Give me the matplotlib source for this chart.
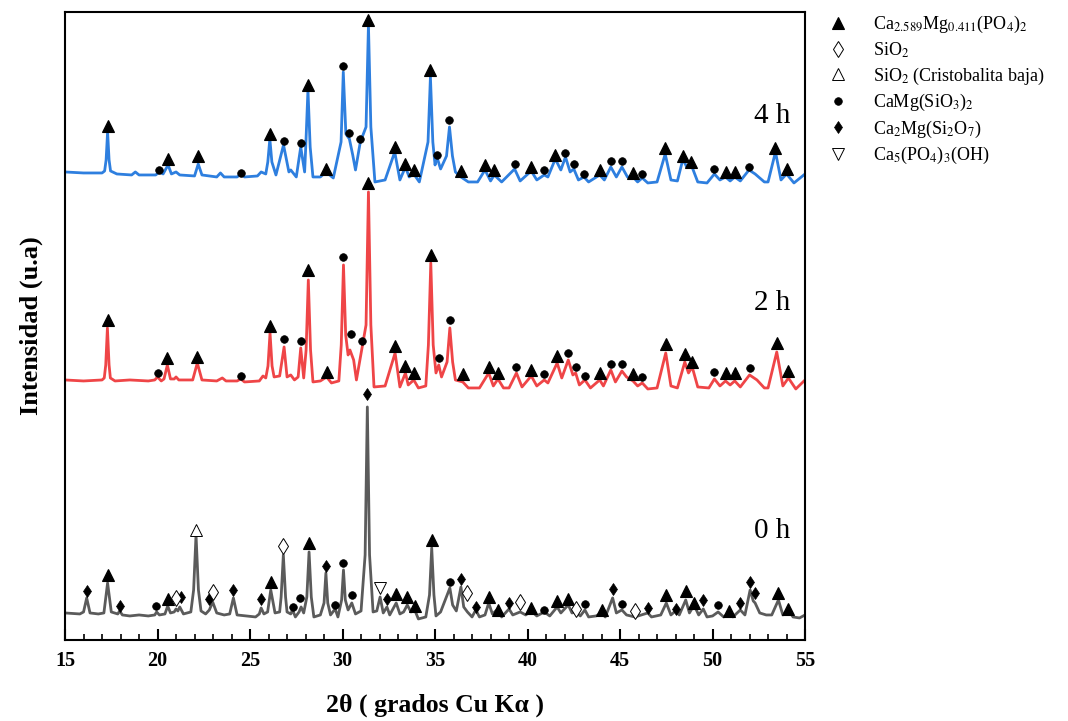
import matplotlib
matplotlib.use("Agg")
import matplotlib.pyplot as plt
from matplotlib.lines import Line2D
from matplotlib.ticker import MultipleLocator

plt.rcParams['font.family'] = ['Liberation Serif', 'DejaVu Serif']
plt.rcParams['mathtext.fontset'] = 'stix'

# XRD patterns as (2theta, intensity a.u.) points
pattern_0h = [
    (15.0, 2), (15.8, 1), (16.0, 3), (16.17, 17), (16.35, 2), (16.8, 1), (17.1, 2), (17.3, 32),
    (17.5, 3), (17.85, 1), (17.95, 4), (18.1, 0), (18.5, -1), (19.0, 0), (19.5, -1), (19.85, 0),
    (19.95, 3), (20.1, 0), (20.4, 1), (20.55, 9), (20.7, 2), (20.9, 3), (21.0, 6), (21.1, 4),
    (21.2, 8), (21.4, 1), (21.8, 3), (21.95, 25), (22.08, 80), (22.21, 25), (22.35, 4), (22.6, 1),
    (22.8, 5), (22.98, 13), (23.2, 2), (23.6, 0), (23.9, 1), (24.1, 17), (24.3, 0), (24.8, -1),
    (25.3, -2), (25.5, 1), (25.6, 7), (25.75, 1), (25.95, 3), (26.12, 25), (26.35, 2), (26.6, 3),
    (26.68, 18), (26.8, 60), (26.92, 18), (27.0, 3), (27.2, 1), (27.3, 5), (27.45, -2), (27.65, 3),
    (27.76, 8), (27.9, 2), (28.07, 18), (28.19, 63), (28.31, 18), (28.45, -2), (28.8, 0),
    (29.0, 12), (29.1, 42), (29.2, 12), (29.35, 0), (29.6, 6), (29.75, -2), (29.95, 15),
    (30.05, 45), (30.15, 15), (30.3, 5), (30.5, 12), (30.7, 1), (31.0, 4), (31.22, 60),
    (31.34, 208), (31.46, 60), (31.65, 3), (31.85, 4), (32.03, 18), (32.2, 2), (32.4, 8),
    (32.55, 0), (32.9, 12), (33.1, 1), (33.3, 3), (33.5, 10), (33.7, 3), (33.9, 5), (34.1, -4),
    (34.5, -2), (34.7, 20), (34.82, 67), (34.94, 20), (35.05, -1), (35.3, 3), (35.8, 27),
    (35.95, 10), (36.15, 4), (36.4, 28), (36.55, 8), (36.75, 3), (37.0, -2), (37.2, 5),
    (37.4, -2), (37.7, 0), (37.9, 12), (38.1, 1), (38.4, 6), (38.6, -2), (39.0, 6), (39.2, 0),
    (39.6, 3), (39.9, 0), (40.2, 4), (40.5, -1), (40.9, 3), (41.2, -1), (41.6, 8), (41.8, 2),
    (42.2, 10), (42.4, 2), (42.6, 3), (42.85, -1), (43.1, 5), (43.3, -2), (43.7, -1), (44.0, 2),
    (44.2, -2), (44.6, 17), (44.8, 2), (45.1, 5), (45.35, 0), (45.8, -2), (46.5, 2), (46.7, -2),
    (47.2, 0), (47.5, 12), (47.75, 0), (48.0, 4), (48.2, 0), (48.55, 15), (48.75, 2), (49.0, 10),
    (49.25, 0), (49.5, 6), (49.7, -2), (50.0, -1), (50.3, 3), (50.6, -2), (50.9, 2), (51.1, -2),
    (51.5, 5), (51.75, 0), (52.03, 25), (52.2, 14), (52.3, 12), (52.55, 2), (52.9, 0), (53.2, 0),
    (53.56, 15), (53.8, 0), (54.1, 5), (54.35, -2), (54.7, -3), (55.0, 0),
]

pattern_2h = [
    (15.0, 0), (16.0, -1), (17.0, 0), (17.12, 2), (17.2, 15), (17.29, 52), (17.38, 15), (17.45, 2),
    (17.7, -1), (18.5, 0), (19.5, -1), (19.85, 0), (20.0, 3), (20.2, -1), (20.35, 1), (20.53, 15),
    (20.7, 1), (20.9, 1), (21.0, 3), (21.15, 0), (21.9, 0), (22.15, 17), (22.4, 0), (23.2, -1),
    (23.5, 2), (23.7, -1), (24.3, -1), (24.5, 1), (24.7, -2), (25.5, -1), (25.7, 4), (25.85, 2),
    (25.97, 14), (26.08, 47), (26.19, 14), (26.3, 3), (26.6, 4), (26.84, 33), (27.0, 3), (27.2, 5),
    (27.4, 0), (27.6, 3), (27.74, 32), (27.9, 2), (28.03, 30), (28.15, 100), (28.27, 30),
    (28.4, -2), (28.8, -1), (29.14, 3), (29.4, -3), (29.8, -1), (29.93, 35), (30.05, 115),
    (30.17, 45), (30.3, 25), (30.4, 30), (30.6, 20), (30.75, 0), (31.05, 32), (31.27, 55),
    (31.4, 188), (31.53, 55), (31.7, -7), (32.3, -6), (32.84, 27), (33.1, -7), (33.4, 7),
    (33.55, -5), (33.85, 0), (34.1, -8), (34.5, -6), (34.64, 35), (34.77, 117), (34.9, 35),
    (35.05, 7), (35.2, 15), (35.35, 3), (35.65, 18), (35.8, 52), (35.95, 18), (36.1, 0),
    (36.5, -2), (36.8, -8), (37.4, -8), (37.9, 7), (38.15, -6), (38.4, 1), (38.7, -8), (39.0, -8),
    (39.4, 7), (39.7, -7), (40.2, 4), (40.5, -6), (40.9, 0), (41.1, -3), (41.6, 17), (41.85, 2),
    (42.2, 20), (42.45, 5), (42.6, 7), (42.8, -5), (43.1, 0), (43.4, -8), (43.9, 0), (44.1, -6),
    (44.5, 10), (44.75, -2), (45.1, 9), (45.35, 3), (45.7, -1), (45.95, -6), (46.2, -3),
    (46.5, -9), (47.0, -8), (47.47, 27), (47.75, -6), (48.1, -8), (48.5, 18), (48.7, 7),
    (48.9, 13), (49.2, -7), (49.8, -8), (50.1, 1), (50.4, -6), (50.7, -1), (50.95, -5),
    (51.2, -1), (51.5, -7), (52.0, 5), (52.4, 0), (52.8, -8), (53.0, -8), (53.47, 28),
    (53.8, -6), (54.1, 2), (54.5, -9), (55.0, 0),
]

pattern_4h = [
    (15.0, 0), (16.0, -1), (17.0, -1), (17.14, 1), (17.22, 12), (17.3, 40), (17.38, 12),
    (17.46, 1), (17.8, -2), (18.6, -3), (18.8, 0), (19.0, -3), (19.9, -3), (20.1, 0), (20.3, -2),
    (20.57, 7), (20.75, -2), (21.0, 0), (21.2, -3), (22.0, -4), (22.2, 8), (22.4, -3), (23.2, -5),
    (23.4, -1), (23.6, -5), (24.3, -5), (24.5, -2), (24.7, -5), (25.4, -4), (25.6, 0), (25.85, -2),
    (25.96, 10), (26.07, 33), (26.18, 10), (26.4, -3), (26.81, 27), (27.1, 0), (27.2, 2),
    (27.5, -5), (27.74, 25), (27.95, 0), (28.01, 25), (28.13, 82), (28.25, 25), (28.4, -5),
    (28.8, -5), (29.1, 0), (29.5, -6), (29.92, 30), (30.04, 100), (30.18, 38), (30.37, 33),
    (30.55, 17), (30.7, 2), (30.96, 30), (31.27, 45), (31.4, 147), (31.53, 45), (31.75, -10),
    (32.3, -8), (32.82, 20), (33.1, -8), (33.4, 5), (33.6, -5), (33.85, -2), (34.15, -10),
    (34.62, 30), (34.75, 95), (34.88, 30), (35.0, 7), (35.1, 15), (35.3, 3), (35.62, 16),
    (35.78, 45), (35.94, 16), (36.1, 0), (36.4, -5), (36.8, -10), (37.3, -10), (37.7, 2),
    (38.0, -9), (38.2, -3), (38.6, -10), (39.3, 3), (39.6, -9), (40.2, 1), (40.5, -8), (40.9, -3),
    (41.1, -5), (41.5, 13), (41.8, 2), (42.05, 15), (42.3, 0), (42.5, 3), (42.75, -8),
    (43.05, -5), (43.3, -10), (43.9, -3), (44.15, -8), (44.5, 5), (44.8, -5), (45.1, 5),
    (45.4, -5), (45.7, -5), (45.95, -10), (46.2, -6), (46.5, -11), (47.0, -10), (47.44, 18),
    (47.75, -8), (48.1, -9), (48.4, 13), (48.6, 5), (48.85, 7), (49.2, -10), (49.7, -11),
    (50.1, -2), (50.4, -8), (50.7, -5), (50.95, -9), (51.2, -5), (51.5, -9), (51.97, 2),
    (52.3, -2), (52.8, -10), (53.0, -10), (53.4, 20), (53.7, -8), (54.0, -2), (54.4, -11),
    (55.0, -2),
]

# phase marks above peaks: (phase, 2theta, level)
marks_0h = [("cmp", 16.17, 24), ("cmp", 17.95, 9), ("cmp", 21.25, 18), ("cmp", 22.8, 16),
            ("cmp", 24.1, 25), ("cmp", 25.6, 16), ("cmp", 29.1, 49), ("cmp", 31.34, 221),
            ("cmp", 32.4, 16), ("cmp", 36.4, 36), ("cmp", 37.2, 8), ("cmp", 39.0, 12),
            ("cmp", 44.6, 26), ("cmp", 46.5, 7), ("cmp", 48.0, 6), ("cmp", 49.5, 15),
            ("cmp", 51.5, 12), ("cmp", 52.03, 33), ("cmp", 52.3, 22),
            ("tcp", 17.3, 40), ("tcp", 20.55, 16), ("tcp", 26.12, 33), ("tcp", 28.19, 72),
            ("tcp", 32.9, 21), ("tcp", 33.5, 18), ("tcp", 33.9, 9), ("tcp", 34.82, 75),
            ("tcp", 37.9, 18), ("tcp", 38.4, 5), ("tcp", 40.2, 7), ("tcp", 41.6, 14),
            ("tcp", 42.2, 16), ("tcp", 44.0, 5), ("tcp", 47.5, 20), ("tcp", 48.55, 24),
            ("tcp", 49.0, 12), ("tcp", 50.9, 4), ("tcp", 53.56, 22), ("tcp", 54.1, 6),
            ("dio", 19.9, 9), ("dio", 27.3, 8), ("dio", 27.7, 17), ("dio", 29.6, 10),
            ("dio", 30.05, 52), ("dio", 30.5, 20), ("dio", 35.8, 33), ("dio", 40.9, 5),
            ("dio", 43.1, 11), ("dio", 45.1, 11), ("dio", 50.3, 10),
            ("sio", 21.0, 17), ("sio", 22.98, 23), ("sio", 26.8, 69), ("sio", 36.7, 22),
            ("sio", 39.6, 13), ("sio", 42.6, 6), ("sio", 45.8, 4),
            ("cri", 22.08, 85),
            ("hap", 32.03, 27)]

marks_2h = [("tcp", 17.3, 60), ("dio", 20.0, 7), ("tcp", 20.53, 22), ("tcp", 22.15, 23),
            ("dio", 24.5, 4), ("tcp", 26.08, 54), ("dio", 26.84, 41), ("dio", 27.74, 39),
            ("tcp", 28.15, 110), ("tcp", 29.14, 8), ("dio", 30.05, 123), ("dio", 30.45, 46),
            ("dio", 31.05, 39), ("tcp", 31.4, 197), ("tcp", 32.84, 34), ("tcp", 33.4, 14),
            ("tcp", 33.85, 7), ("tcp", 34.77, 125), ("dio", 35.2, 22), ("dio", 35.8, 60),
            ("tcp", 36.5, 6), ("tcp", 37.9, 13), ("tcp", 38.4, 7), ("dio", 39.4, 13),
            ("tcp", 40.2, 10), ("dio", 40.9, 6), ("tcp", 41.6, 24), ("dio", 42.2, 27),
            ("dio", 42.6, 13), ("dio", 43.1, 4), ("tcp", 43.9, 7), ("dio", 44.5, 16),
            ("dio", 45.1, 16), ("tcp", 45.7, 6), ("dio", 46.2, 3), ("tcp", 47.47, 36),
            ("tcp", 48.5, 26), ("tcp", 48.9, 18), ("dio", 50.1, 8), ("tcp", 50.7, 7),
            ("tcp", 51.2, 7), ("dio", 52.0, 12), ("tcp", 53.47, 37), ("tcp", 54.1, 9)]

marks_4h = [("tcp", 17.3, 46), ("dio", 20.1, 2), ("tcp", 20.57, 13), ("tcp", 22.2, 16),
            ("dio", 24.5, -1), ("tcp", 26.07, 38), ("dio", 26.81, 31), ("dio", 27.74, 29),
            ("tcp", 28.13, 87), ("tcp", 29.1, 3), ("dio", 30.04, 106), ("dio", 30.37, 39),
            ("dio", 30.96, 33), ("tcp", 31.4, 152), ("tcp", 32.82, 25), ("tcp", 33.4, 8),
            ("tcp", 33.85, 2), ("tcp", 34.75, 102), ("dio", 35.1, 17), ("dio", 35.78, 52),
            ("tcp", 36.4, 1), ("tcp", 37.7, 7), ("tcp", 38.2, 2), ("dio", 39.3, 8),
            ("tcp", 40.2, 5), ("dio", 40.9, 2), ("tcp", 41.5, 17), ("dio", 42.05, 19),
            ("dio", 42.5, 8), ("dio", 43.05, -2), ("tcp", 43.9, 2), ("dio", 44.5, 11),
            ("dio", 45.1, 11), ("tcp", 45.7, -1), ("dio", 46.2, -2), ("tcp", 47.44, 24),
            ("tcp", 48.4, 16), ("tcp", 48.85, 10), ("dio", 50.1, 3), ("tcp", 50.7, 0),
            ("tcp", 51.2, 0), ("dio", 51.97, 5), ("tcp", 53.4, 24), ("tcp", 54.0, 3)]

phase_labels = {
    "tcp": r"Ca$_{2.589}$Mg$_{0.411}$(PO$_4$)$_2$",
    "sio": r"SiO$_2$",
    "cri": r"SiO$_2$ (Cristobalita baja)",
    "dio": r"CaMg(SiO$_3$)$_2$",
    "cmp": r"Ca$_2$Mg(Si$_2$O$_7$)",
    "hap": r"Ca$_5$(PO$_4$)$_3$(OH)",
}
phase_order = ["tcp", "sio", "cri", "dio", "cmp", "hap"]

phase_style = {
    "tcp": dict(marker="^", ms=8, mfc="black", mec="black", mew=0.8),
    "sio": dict(marker="d", ms=8.5, mfc="white", mec="black", mew=0.7),
    "cri": dict(marker="^", ms=8, mfc="white", mec="black", mew=0.7),
    "dio": dict(marker="o", ms=5.5, mfc="black", mec="black", mew=0.5),
    "cmp": dict(marker="d", ms=6.5, mfc="black", mec="black", mew=0.5),
    "hap": dict(marker="v", ms=8, mfc="white", mec="black", mew=0.7),
}

# name, pattern, marks, vertical offset, colour, label height
traces = [
    ("0 h", pattern_0h, marks_0h, 25, "#5b5b5b", 109),
    ("2 h", pattern_2h, marks_2h, 260, "#ef4547", 337),
    ("4 h", pattern_4h, marks_4h, 468, "#2e7fdf", 524),
]

fig = plt.figure(figsize=(10.68, 7.21), dpi=100)
ax = fig.add_axes([0.0609, 0.1124, 0.6929, 0.871])

for name, pat, marks, off, col, lab_y in traces:
    th = [p[0] for p in pat]
    it = [p[1] + off for p in pat]
    ax.plot(th, it, color=col, lw=2.0, solid_joinstyle="round", zorder=2)
    for ph, t, lev in marks:
        ax.plot([t], [lev + off], linestyle="none", zorder=3, clip_on=False, **phase_style[ph])
    ax.text(53.2, lab_y, name, fontsize=21, ha="center", va="center")

ax.set_xlim(15, 55)
ax.set_ylim(0, 628)
ax.xaxis.set_major_locator(MultipleLocator(5))
ax.xaxis.set_minor_locator(MultipleLocator(1))
ax.tick_params(axis="x", which="major", direction="in", length=8, width=1.5, pad=8,
               labelsize=14.5)
ax.tick_params(axis="x", which="minor", direction="in", length=4, width=1.2)
ax.tick_params(axis="y", left=False, labelleft=False)
for lbl in ax.get_xticklabels():
    lbl.set_fontweight("bold")
for sp in ax.spines.values():
    sp.set_linewidth(1.5)

ax.set_xlabel("2θ ( grados Cu Kα )", fontsize=18.5, fontweight="bold", labelpad=16)
ax.set_ylabel("Intensidad (u.a)", fontsize=19, fontweight="bold", labelpad=16)

handles = [Line2D([], [], linestyle="none", **phase_style[p]) for p in phase_order]
ax.legend(handles, [phase_labels[p] for p in phase_order], loc="upper left",
          bbox_to_anchor=(1.02, 1.008), frameon=False, fontsize=13, handlelength=1.2,
          handletextpad=1.35, labelspacing=0.3, borderaxespad=0.0)

fig.savefig("out.png", dpi=100)
